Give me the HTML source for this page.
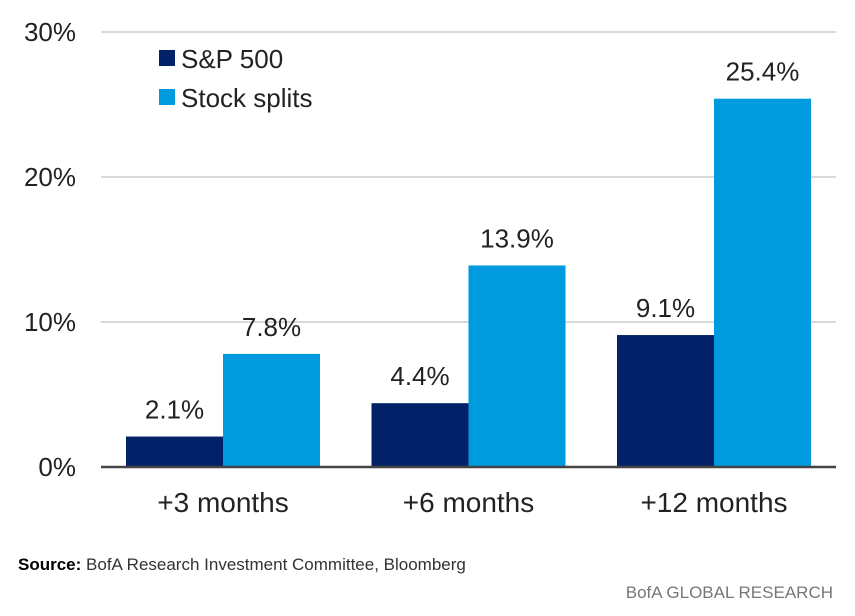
<!DOCTYPE html>
<html><head><meta charset="utf-8"><style>
html,body{margin:0;padding:0;background:#fff;}
svg text{font-family:"Liberation Sans Narrow","Liberation Sans",sans-serif;}
</style></head><body>
<svg id="chart" width="855" height="611" xmlns="http://www.w3.org/2000/svg">
<g id="grid"></g>
<g id="ticks"></g>
<g id="bars"></g>
<g id="cats"></g>
<g>
<g>
<rect x="159" y="50" width="16" height="16" fill="#012169"/>
<text x="181" y="68" font-size="26" fill="#222">S&amp;P 500</text></g>
<g>
<rect x="159" y="89" width="16" height="16" fill="#009ade"/>
<text x="181" y="107" font-size="26" fill="#222">Stock splits</text></g>
</g>
<text x="18" y="570" font-size="17" fill="#333"><tspan font-weight="bold" fill="#000">Source:</tspan>  BofA Research Investment Committee, Bloomberg</text>
<text x="833" y="598" font-size="17" fill="#777" text-anchor="end">BofA GLOBAL RESEARCH</text>
</svg>
<script>
const categories=["+3 months","+6 months","+12 months"];
const sp500=[2.1,4.4,9.1];
const splits=[7.8,13.9,25.4];
const yTicks=[0,10,20,30];
const NS="http://www.w3.org/2000/svg";
function y(v){return 467-v*14.5;}
function gx(i){return 126+i*245.5;}
const bw=97;
function mk(parent,tag,attrs){const e=document.createElementNS(NS,tag);for(const k in attrs)e.setAttribute(k,attrs[k]);document.getElementById(parent).appendChild(e);return e;}
yTicks.forEach(t=>{
 if(t>0){const l=mk('grid','line',{x1:101,x2:836,y1:y(t),y2:y(t),stroke:'#d9d9d9','stroke-width':2});
 
 }
 const tx=mk('ticks','text',{x:76,y:y(t)+9,'font-size':26,fill:'#222','text-anchor':'end'});
 tx.textContent=t+'%';
 
 
});
categories.forEach((c,i)=>{
 const x=gx(i);
 [[sp500[i],'#012169',x],[splits[i],'#009ade',x+bw]].forEach(([v,col,bx])=>{
  const r=mk('bars','rect',{x:bx,y:y(v),width:bw,height:467-y(v),fill:col});
  
  
  const lb=mk('bars','text',{x:bx+bw/2,y:y(v)-18,'font-size':26,fill:'#222','text-anchor':'middle'});
  lb.textContent=v.toFixed(1)+'%';
  
  
 });
 const ct=mk('cats','text',{x:x+bw,y:512,'font-size':28,fill:'#222','text-anchor':'middle'});
 ct.textContent=c;
 
 
});
const ax=mk('cats','line',{x1:101,x2:836,y1:467,y2:467,stroke:'#444','stroke-width':2.5});


</script>
</body></html>
